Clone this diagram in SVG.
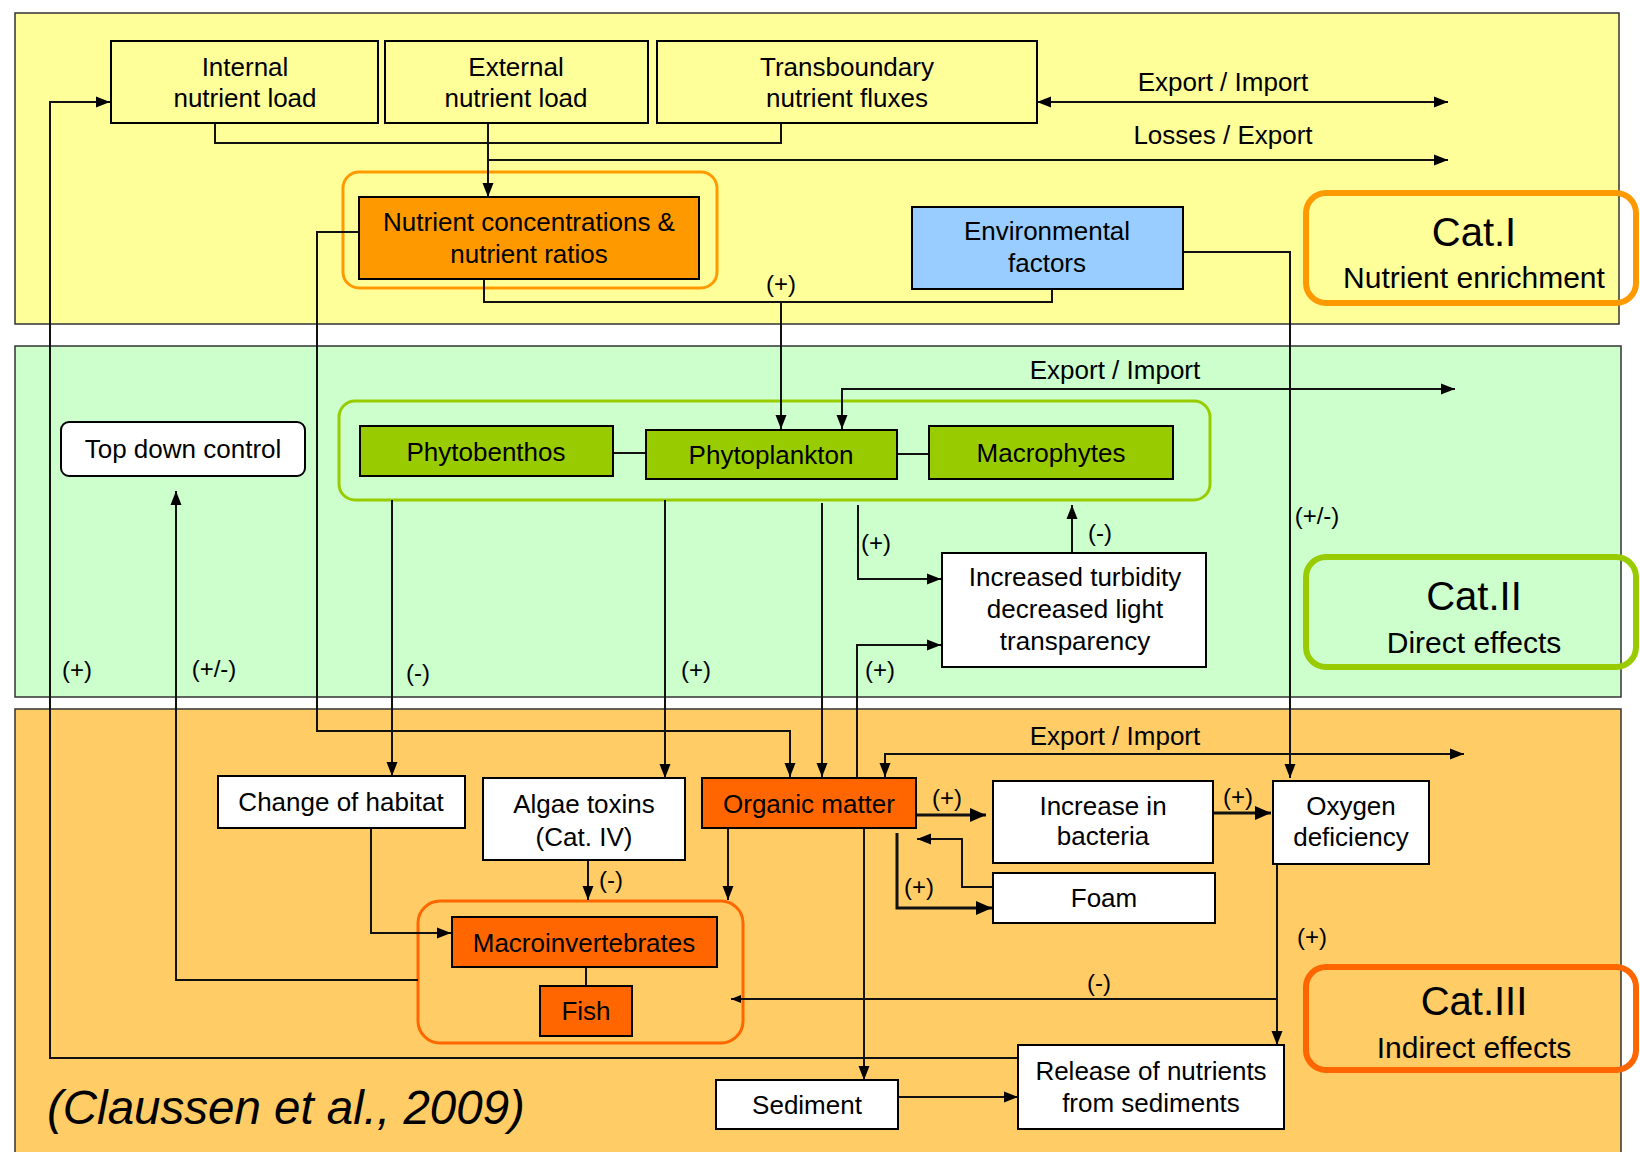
<svg xmlns="http://www.w3.org/2000/svg" width="1640" height="1152" viewBox="0 0 1640 1152">
  <style>
    text { font-family: "Liberation Sans", Arial, sans-serif; fill: #000; text-anchor: middle; }
    .lbl { font-size: 26px; }
    .sign { font-size: 24px; }
    .catT { font-size: 40px; }
    .catS { font-size: 30px; }
    .band { stroke: #333; stroke-width: 1.5; }
    .box { stroke: #000; stroke-width: 2; }
    .ln { fill: none; stroke: #111; stroke-width: 2; }
    .lnb { fill: none; stroke: #111; stroke-width: 3; }
  </style>
  <defs>
    <marker id="ah" markerUnits="userSpaceOnUse" markerWidth="14" markerHeight="12" refX="14" refY="6" orient="auto-start-reverse">
      <path d="M0,0.5 L14,6 L0,11.5 z" fill="#000"/>
    </marker>
    <marker id="ahb" markerUnits="userSpaceOnUse" markerWidth="16" markerHeight="16" refX="16" refY="8" orient="auto-start-reverse">
      <path d="M0,1 L16,8 L0,15 z" fill="#000"/>
    </marker>
    <marker id="ahs" markerUnits="userSpaceOnUse" markerWidth="10" markerHeight="10" refX="10" refY="5" orient="auto-start-reverse">
      <path d="M0,1 L10,5 L0,9 z" fill="#000"/>
    </marker>
  </defs>

  <!-- category bands -->
  <rect class="band" x="15" y="13" width="1604" height="311" fill="#FFFF99"/>
  <rect class="band" x="15" y="346" width="1606" height="351" fill="#CCFFCC"/>
  <rect class="band" x="15" y="709" width="1606" height="460" fill="#FFCC66"/>

  <!-- group outlines -->
  <rect x="343" y="172" width="374" height="116" rx="16" fill="none" stroke="#FF9900" stroke-width="3"/>
  <rect x="339" y="401" width="871" height="99" rx="16" fill="none" stroke="#99CC00" stroke-width="3"/>
  <rect x="418" y="901" width="325" height="142" rx="22" fill="none" stroke="#FF6600" stroke-width="3"/>

  <!-- connectors -->
  <g id="connectors">
    <path class="ln" d="M215,123 V143 H781 V123"/>
    <path class="ln" d="M488,123 V197" marker-end="url(#ah)"/>
    <path class="ln" d="M488,160 H1448" marker-end="url(#ah)"/>
    <path class="ln" d="M1037,102 H1448" marker-start="url(#ah)" marker-end="url(#ah)"/>
    <path class="ln" d="M484,279 V302 H1052 V289"/>
    <path class="ln" d="M781,302 V429" marker-end="url(#ah)"/>
    <path class="ln" d="M1183,252 H1290 V778" marker-end="url(#ah)"/>
    <path class="ln" d="M359,232 H317 V731 H790 V777" marker-end="url(#ah)"/>
    <path class="ln" d="M842,429 V389 H1455" marker-start="url(#ah)" marker-end="url(#ah)"/>
    <path class="ln" d="M613,453 H646" stroke="#666"/>
    <path class="ln" d="M897,454 H929"/>
    <path class="ln" d="M392,500 V776" marker-end="url(#ah)"/>
    <path class="ln" d="M665,500 V778" marker-end="url(#ah)"/>
    <path class="ln" d="M822,503 V777" marker-end="url(#ah)"/>
    <path class="ln" d="M858,505 V579 H941" marker-end="url(#ah)"/>
    <path class="ln" d="M857,777 V645 H941" marker-end="url(#ah)"/>
    <path class="ln" d="M1072,553 V505" marker-end="url(#ah)"/>
    <path class="ln" d="M418,980 H176 V491" marker-end="url(#ah)"/>
    <path class="ln" d="M1018,1058 H50 V102 H110" marker-end="url(#ah)"/>
    <path class="ln" d="M885,777 V754 H1464" marker-start="url(#ah)" marker-end="url(#ah)"/>
    <path class="lnb" d="M916,815 H986" marker-end="url(#ahb)"/>
    <path class="lnb" d="M1214,813 H1271" marker-end="url(#ahb)"/>
    <path class="ln" d="M993,887 H962 V839 H917" marker-end="url(#ah)"/>
    <path class="lnb" d="M897,833 V908 H992" marker-end="url(#ahb)"/>
    <path class="ln" d="M864,828 V1080" stroke="#5e4e2c" stroke-width="2.5" marker-end="url(#ah)"/>
    <path class="ln" d="M728,828 V900" marker-end="url(#ah)"/>
    <path class="ln" d="M588,860 V900" marker-end="url(#ah)"/>
    <path class="ln" d="M371,828 V933 H451" marker-end="url(#ah)"/>
    <path class="ln" d="M586,967 V986"/>
    <path class="ln" d="M1277,864 V1045" marker-end="url(#ah)"/>
    <path class="ln" d="M1277,999 H731" marker-end="url(#ahs)"/>
    <path class="ln" d="M898,1097 H1018" marker-end="url(#ah)"/>
  </g>

  <!-- connector labels -->
  <g id="connector-labels">
    <text class="lbl" x="1223" y="91">Export / Import</text>
    <text class="lbl" x="1223" y="144">Losses / Export</text>
    <text class="sign" x="781" y="292">(+)</text>
    <text class="lbl" x="1115" y="379">Export / Import</text>
    <text class="sign" x="1317" y="524">(+/-)</text>
    <text class="sign" x="876" y="551">(+)</text>
    <text class="sign" x="1100" y="541">(-)</text>
    <text class="sign" x="77" y="678">(+)</text>
    <text class="sign" x="214" y="677">(+/-)</text>
    <text class="sign" x="418" y="681">(-)</text>
    <text class="sign" x="696" y="678">(+)</text>
    <text class="sign" x="880" y="678">(+)</text>
    <text class="lbl" x="1115" y="745">Export / Import</text>
    <text class="sign" x="947" y="806">(+)</text>
    <text class="sign" x="1238" y="805">(+)</text>
    <text class="sign" x="919" y="895">(+)</text>
    <text class="sign" x="611" y="888">(-)</text>
    <text class="sign" x="1312" y="945">(+)</text>
    <text class="sign" x="1099" y="991">(-)</text>
  </g>

  <!-- Category I nodes -->
  <g id="internal-load">
    <rect class="box" x="111" y="41" width="267" height="82" fill="#FFFF99"/>
    <text class="lbl" x="245" y="76">Internal</text>
    <text class="lbl" x="245" y="107">nutrient load</text>
  </g>
  <g id="external-load">
    <rect class="box" x="385" y="41" width="263" height="82" fill="#FFFF99"/>
    <text class="lbl" x="516" y="76">External</text>
    <text class="lbl" x="516" y="107">nutrient load</text>
  </g>
  <g id="transboundary">
    <rect class="box" x="657" y="41" width="380" height="82" fill="#FFFF99"/>
    <text class="lbl" x="847" y="76">Transboundary</text>
    <text class="lbl" x="847" y="107">nutrient fluxes</text>
  </g>
  <g id="nutrient-concentrations">
    <rect class="box" x="359" y="197" width="340" height="82" fill="#FF9900"/>
    <text class="lbl" x="529" y="231">Nutrient concentrations &amp;</text>
    <text class="lbl" x="529" y="263">nutrient ratios</text>
  </g>
  <g id="environmental-factors">
    <rect class="box" x="912" y="207" width="271" height="82" fill="#99CCFF"/>
    <text class="lbl" x="1047" y="240">Environmental</text>
    <text class="lbl" x="1047" y="272">factors</text>
  </g>
  <g id="cat-1">
    <rect x="1306" y="193" width="330" height="110" rx="20" fill="none" stroke="#FF9900" stroke-width="6"/>
    <text class="catT" x="1474" y="246">Cat.I</text>
    <text class="catS" x="1474" y="288">Nutrient enrichment</text>
  </g>

  <!-- Category II nodes -->
  <g id="top-down-control">
    <rect class="box" x="61" y="422" width="244" height="54" rx="8" fill="#FFFFFF"/>
    <text class="lbl" x="183" y="458">Top down control</text>
  </g>
  <g id="phytobenthos">
    <rect class="box" x="360" y="426" width="253" height="50" fill="#99CC00"/>
    <text class="lbl" x="486" y="461">Phytobenthos</text>
  </g>
  <g id="phytoplankton">
    <rect class="box" x="646" y="430" width="251" height="49" fill="#99CC00"/>
    <text class="lbl" x="771" y="464">Phytoplankton</text>
  </g>
  <g id="macrophytes">
    <rect class="box" x="929" y="426" width="244" height="53" fill="#99CC00"/>
    <text class="lbl" x="1051" y="462">Macrophytes</text>
  </g>
  <g id="turbidity">
    <rect class="box" x="942" y="553" width="264" height="114" fill="#FFFFFF"/>
    <text class="lbl" x="1075" y="586">Increased turbidity</text>
    <text class="lbl" x="1075" y="618">decreased light</text>
    <text class="lbl" x="1075" y="650">transparency</text>
  </g>
  <g id="cat-2">
    <rect x="1306" y="557" width="330" height="110" rx="20" fill="none" stroke="#99CC00" stroke-width="6"/>
    <text class="catT" x="1474" y="610">Cat.II</text>
    <text class="catS" x="1474" y="653">Direct effects</text>
  </g>

  <!-- Category III nodes -->
  <g id="change-of-habitat">
    <rect class="box" x="218" y="776" width="247" height="52" fill="#FFFFFF"/>
    <text class="lbl" x="341" y="811">Change of habitat</text>
  </g>
  <g id="algae-toxins">
    <rect class="box" x="483" y="778" width="202" height="82" fill="#FFFFFF"/>
    <text class="lbl" x="584" y="813">Algae toxins</text>
    <text class="lbl" x="584" y="846">(Cat. IV)</text>
  </g>
  <g id="organic-matter">
    <rect class="box" x="702" y="778" width="214" height="50" fill="#FF6600"/>
    <text class="lbl" x="809" y="813">Organic matter</text>
  </g>
  <g id="bacteria">
    <rect class="box" x="993" y="781" width="220" height="82" fill="#FFFFFF"/>
    <text class="lbl" x="1103" y="815">Increase in</text>
    <text class="lbl" x="1103" y="845">bacteria</text>
  </g>
  <g id="oxygen-deficiency">
    <rect class="box" x="1273" y="781" width="156" height="83" fill="#FFFFFF"/>
    <text class="lbl" x="1351" y="815">Oxygen</text>
    <text class="lbl" x="1351" y="846">deficiency</text>
  </g>
  <g id="foam">
    <rect class="box" x="993" y="873" width="222" height="50" fill="#FFFFFF"/>
    <text class="lbl" x="1104" y="907">Foam</text>
  </g>
  <g id="macroinvertebrates">
    <rect class="box" x="452" y="917" width="265" height="50" fill="#FF6600"/>
    <text class="lbl" x="584" y="952">Macroinvertebrates</text>
  </g>
  <g id="fish">
    <rect class="box" x="540" y="986" width="92" height="50" fill="#FF6600"/>
    <text class="lbl" x="586" y="1020">Fish</text>
  </g>
  <g id="sediment">
    <rect class="box" x="716" y="1080" width="182" height="49" fill="#FFFFFF"/>
    <text class="lbl" x="807" y="1114">Sediment</text>
  </g>
  <g id="release-of-nutrients">
    <rect class="box" x="1018" y="1045" width="266" height="84" fill="#FFFFFF"/>
    <text class="lbl" x="1151" y="1080">Release of nutrients</text>
    <text class="lbl" x="1151" y="1112">from sediments</text>
  </g>
  <g id="cat-3">
    <rect x="1306" y="967" width="330" height="103" rx="20" fill="none" stroke="#FF6600" stroke-width="6"/>
    <text class="catT" x="1474" y="1015">Cat.III</text>
    <text class="catS" x="1474" y="1058">Indirect effects</text>
  </g>

  <!-- source -->
  <text x="47" y="1124" style="font-size:47.5px; font-style:italic; text-anchor:start">(Claussen et al., 2009)</text>
</svg>
